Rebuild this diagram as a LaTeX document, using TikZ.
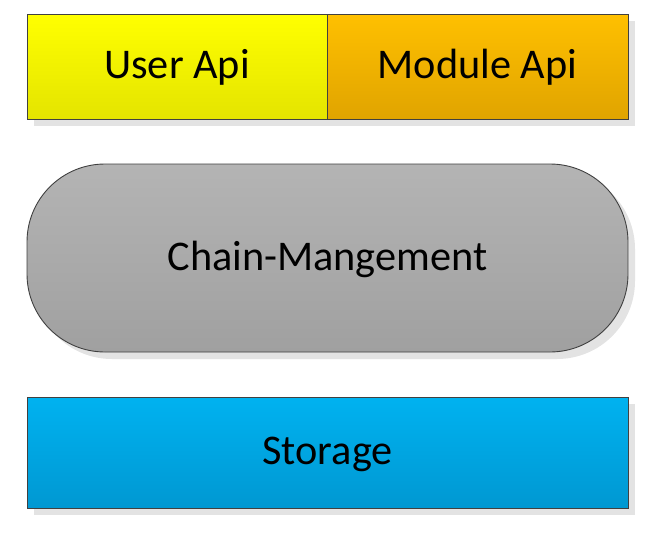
\documentclass[tikz,border=0pt]{standalone}
\usepackage{fontspec}
\setmainfont{Carlito}
\usetikzlibrary{shadows}
\definecolor{edge}{HTML}{404040}
\definecolor{shad}{HTML}{E3E3E3}
\begin{document}
\begin{tikzpicture}[x=1pt,y=-1pt,
  layer/.style={draw=edge, line width=0.9pt, inner sep=0pt, align=center,
    text height=30pt, text depth=6pt,
    font=\fontsize{42.3}{48}\selectfont,
    drop shadow={shadow xshift=7pt, shadow yshift=-7pt, fill=shad, opacity=1}},
  userbox/.style={layer, top color={rgb,255:red,255;green,255;blue,0}, bottom color={rgb,255:red,228;green,228;blue,0}},
  modbox/.style={layer, top color={rgb,255:red,255;green,192;blue,0}, bottom color={rgb,255:red,224;green,164;blue,0}},
  chainbox/.style={layer, rounded corners=78pt, top color={rgb,255:red,180;green,180;blue,180}, bottom color={rgb,255:red,160;green,160;blue,160}},
  storebox/.style={layer, top color={rgb,255:red,0;green,178;blue,240}, bottom color={rgb,255:red,0;green,152;blue,210}}
]
\useasboundingbox (0,0) rectangle (660,536);
\node[userbox, minimum width=300pt, minimum height=105pt] (user) at (177,66.5) {User Api};
\node[modbox, minimum width=301pt, minimum height=105pt] (module) at (477.5,66.5) {Module Api};
\node[chainbox, minimum width=601pt, minimum height=188pt] (chain) at (327.5,258) {Chain-Mangement};
\node[storebox, minimum width=601pt, minimum height=111pt] (storage) at (327.5,452.5) {Storage};
\end{tikzpicture}
\end{document}
